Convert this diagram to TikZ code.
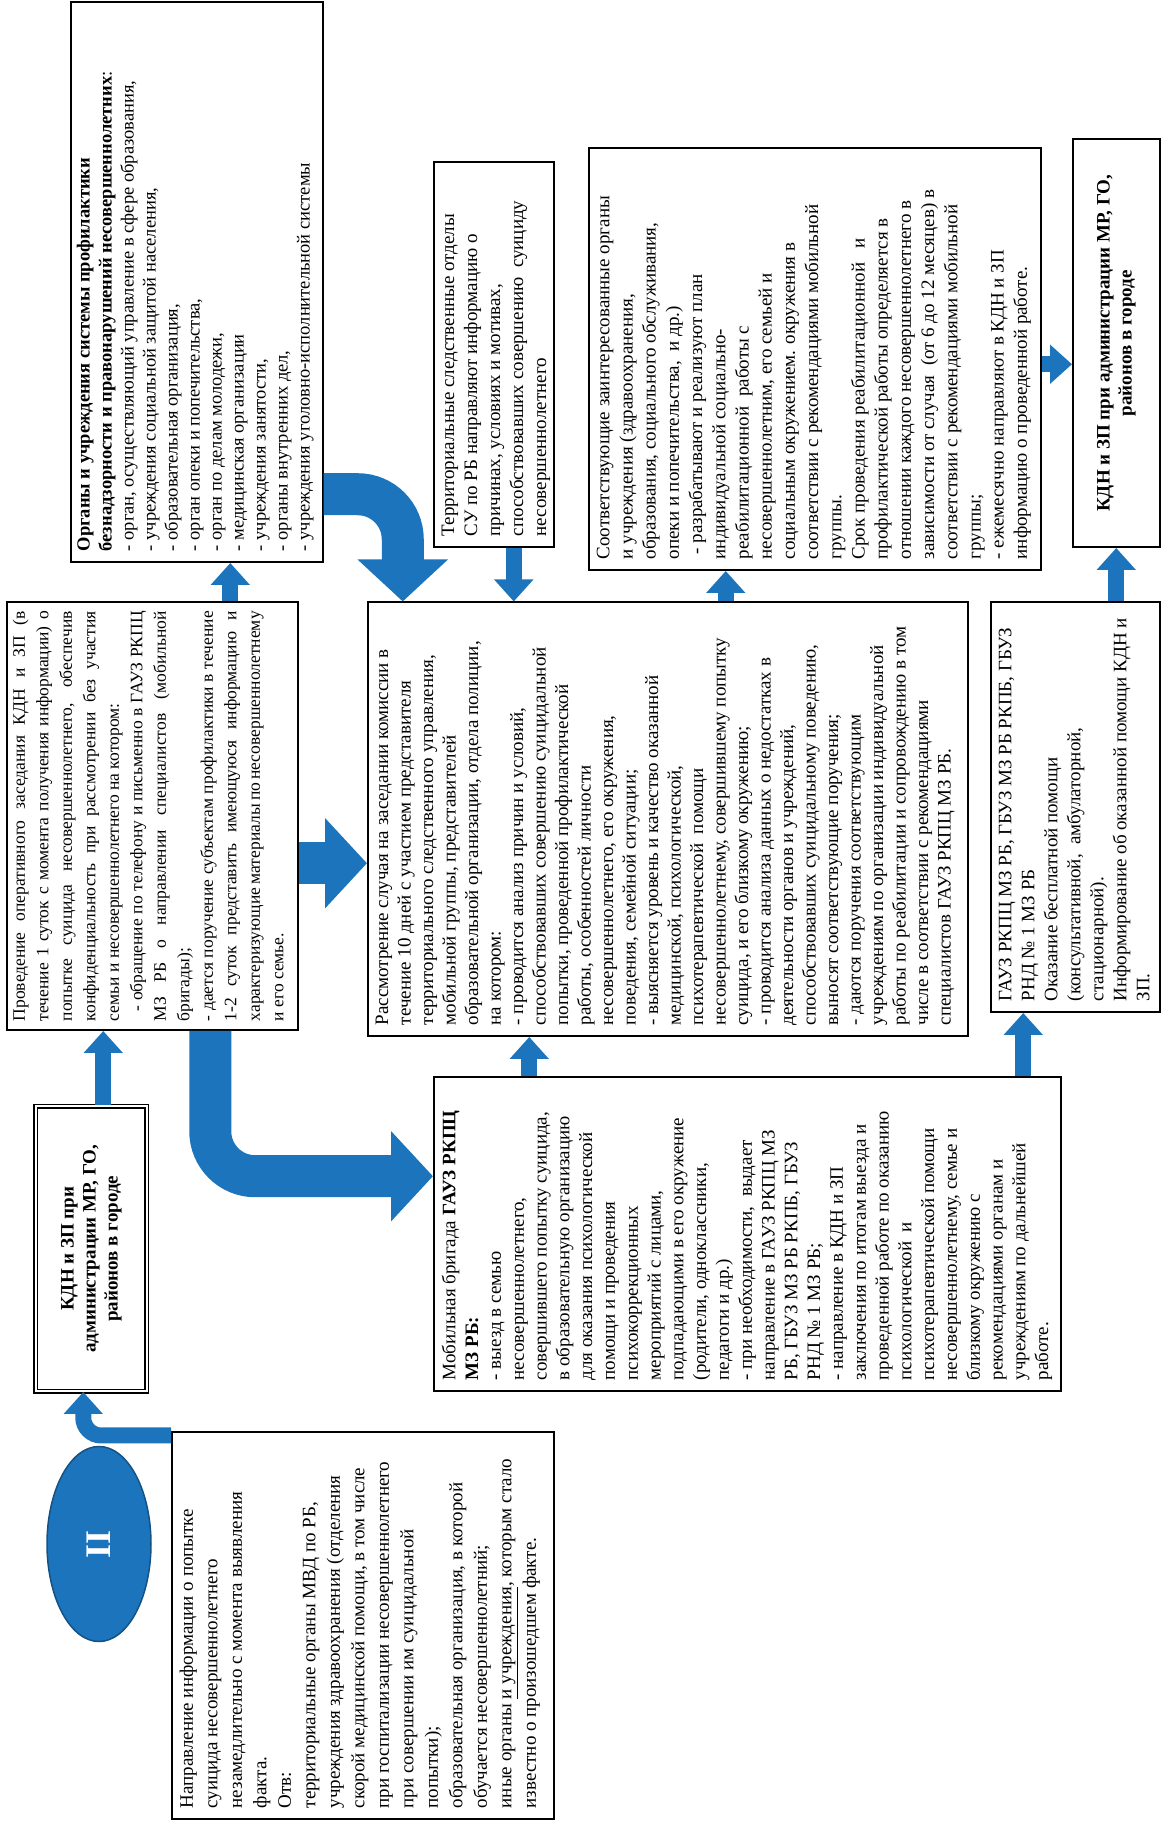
\documentclass[tikz,border=0pt]{standalone}
\usepackage{fontspec}
\setmainfont{Liberation Serif}
\usetikzlibrary{arrows.meta,shapes.geometric}
\definecolor{arrblue}{RGB}{28,117,188}
\newcommand{\pbox}[3]{\parbox[c][#2][t]{#1}{\raggedright #3}}
\newcommand{\jl}[1]{\hbox to\hsize{#1}}
\hbadness=10000
\hfuzz=50pt

\begin{document}
\begin{tikzpicture}[x=1pt, y=1pt,
  blk/.style={draw, line width=1.5pt, inner xsep=11pt, inner ysep=8pt, anchor=north west,
    font=\fontsize{19}{23}\selectfont},
  kdn/.style={draw, line width=1.5pt, anchor=north west, align=center, inner sep=0pt,
    font=\fontsize{19}{22}\selectfont\bfseries},
  arr/.style={arrblue, line width=16pt, -{Triangle[width=38pt,length=22pt]}},
  bigarr/.style={arrblue, line width=42pt, -{Triangle[width=88pt,length=42pt]}, rounded corners=45pt}]
\begin{scope}[rotate=90, transform shape]
\useasboundingbox (0,0) rectangle (1826,-1166);

\node[ellipse, fill=arrblue, draw=arrblue!70!black, line width=1.5pt, minimum width=195pt, minimum height=104pt,
  font=\fontsize{36}{36}\selectfont\bfseries, text=white] (start) at (282,-99) {II};

\node[blk, font=\fontsize{19}{24.5}\selectfont] (notice) at (6,-171) {\pbox{365pt}{366pt}{%
Направление информации о попытке\\
суицида несовершеннолетнего\\
незамедлительно с момента выявления\\
факта.\\
Отв:\\
территориальные органы МВД по РБ,\\
учреждения здравоохранения (отделения\\
скорой медицинской помощи, в том числе\\
при госпитализации несовершеннолетнего\\
при совершении им суицидальной\\
попытки);\\
образовательная организация, в которой\\
обучается несовершеннолетний;\\
иные органы \underline{и учреждения}, которым стало\\
известно о произошедшем факте.}};

\node[kdn, double, double distance=2pt, minimum width=285pt, minimum height=111pt] (kdnleft) at (434,-35)
  {КДН и ЗП при\\ администрации МР, ГО,\\ районов в городе};

\node[blk, inner xsep=9pt, inner ysep=6pt, font=\fontsize{17.5}{23.5}\selectfont] (meeting) at (795,-6) {\pbox{410pt}{279pt}{%
\jl{Проведение оперативного заседания КДН и ЗП (в}
\jl{течение 1 суток с момента получения информации) о}
\jl{попытке суицида несовершеннолетнего, обеспечив}
\jl{конфиденциальность при рассмотрении без участия}
семьи и несовершеннолетнего на котором:\par
\jl{\ \ - обращение по телефону и письменно в ГАУЗ РКПЦ}
\jl{МЗ РБ о направлении специалистов (мобильной}
бригады);\par
\jl{- дается поручение субъектам профилактики в течение}
\jl{1-2 суток представить имеющуюся информацию и}
\jl{характеризующие материалы по несовершеннолетнему}
и его семье.}};

\node[blk, font=\fontsize{19}{22.8}\selectfont] (mobile) at (434,-433) {\pbox{292pt}{611pt}{%
Мобильная бригада \textbf{ГАУЗ РКПЦ}\\
\textbf{МЗ РБ:}\\
- выезд в семью\\
несовершеннолетнего,\\
совершившего попытку суицида,\\
в образовательную организацию\\
для оказания психологической\\
помощи и проведения\\
психокоррекционных\\
мероприятий с лицами,\\
подпадающими в его окружение\\
(родители, одноклассники,\\
педагоги и др.)\\
- при необходимости,\ \ выдает\\
направление в ГАУЗ РКПЦ МЗ\\
РБ, ГБУЗ МЗ РБ РКПБ, ГБУЗ\\
РНД № 1 МЗ РБ;\\
- направление в КДН и ЗП\\
заключения по итогам выезда и\\
проведенной работе по оказанию\\
психологической\ \ и\\
психотерапевтической помощи\\
несовершеннолетнему, семье и\\
близкому окружению с\\
рекомендациями органам и\\
учреждениям по дальнейшей\\
работе.}};

\node[blk, font=\fontsize{19}{22.5}\selectfont] (review) at (789,-367) {\pbox{412pt}{584pt}{%
Рассмотрение случая на заседании комиссии в\\
течение 10 дней с участием представителя\\
территориального следственного управления,\\
мобильной группы, представителей\\
образовательной организации, отдела полиции,\\
на котором:\\
- проводится анализ причин и условий,\\
способствовавших совершению суицидальной\\
попытки, проведенной профилактической\\
работы, особенностей личности\\
несовершеннолетнего, его окружения,\\
поведения, семейной ситуации;\\
- выясняется уровень и качество оказанной\\
медицинской, психологической,\\
психотерапевтической\ \ помощи\\
несовершеннолетнему, совершившему попытку\\
суицида, и его близкому окружению;\\
- проводится анализа данных о недостатках в\\
деятельности органов и учреждений,\\
способствовавших суицидальному поведению,\\
выносят соответствующие поручения;\\
- даются поручения соответствующим\\
учреждениям по организации индивидуальной\\
работы по реабилитации и сопровождению в том\\
числе в соответствии с рекомендациями\\
специалистов ГАУЗ РКПЦ МЗ РБ.}};

\node[blk] (clinics) at (813,-990) {\pbox{388pt}{153pt}{%
ГАУЗ РКПЦ МЗ РБ, ГБУЗ МЗ РБ РКПБ, ГБУЗ\\
РНД № 1 МЗ РБ\\
Оказание бесплатной помощи\\
(консультативной,\ \ амбулаторной,\\
стационарной).\\
Информирование об оказанной помощи КДН и\\
ЗП.}};

\node[blk] (inquiry) at (1278,-433) {\pbox{363pt}{104pt}{%
Территориальные следственные отделы\\
СУ по РБ направляют информацию о\\
причинах, условиях и мотивах,\\
способствовавших совершению\ \ суициду\\
несовершеннолетнего}};

\node[blk, font=\fontsize{19}{23.2}\selectfont] (agencies) at (1255,-588) {\pbox{400pt}{436pt}{%
Соответствующие заинтересованные органы\\
и учреждения (здравоохранения,\\
образования, социального обслуживания,\\
опеки и попечительства,\ \ и др.)\\
\ - разрабатывают и реализуют план\\
индивидуальной социально-\\
реабилитационной\ \ работы с\\
несовершеннолетним, его семьей и\\
социальным окружением. окружения в\\
соответствии с рекомендациями мобильной\\
группы.\\
Срок проведения реабилитационной\ \ \ и\\
профилактической работы определяется в\\
отношении каждого несовершеннолетнего в\\
зависимости от случая\ \ (от 6 до 12 месяцев) в\\
соответствии с рекомендациями мобильной\\
группы;\\
- ежемесячно направляют в КДН и ЗП\\
информацию о проведенной работе.}};

\node[blk, inner ysep=6pt, font=\fontsize{18.5}{22}\selectfont] (organs) at (1263,-70) {\pbox{538pt}{240pt}{%
\textbf{Органы и учреждения системы профилактики}\\
\textbf{безнадзорности и правонарушений несовершеннолетних}:\\
- орган, осуществляющий управление в сфере образования,\\
- учреждения социальной защитой населения,\\
- образовательная организация,\\
- орган опеки и попечительства,\\
- орган по делам молодежи,\\
- медицинская организации\\
- учреждения занятости,\\
- органы внутренних дел,\\
- учреждения уголовно-исполнительной системы}};

\node[kdn, minimum width=408pt, minimum height=87pt] (kdnright) at (1278,-1072)
  {КДН и ЗП при администрации МР, ГО,\\ районов в городе};

\draw[arr, rounded corners=18pt] ([xshift=-4pt]notice.north east) |- ([yshift=8pt]kdnleft.west);
\draw[arr] ([yshift=-12pt]kdnleft.east) -- ([yshift=-12pt]kdnleft.east -| meeting.west);
\draw[arr] ([yshift=-78pt]meeting.east) -- ([yshift=-78pt]meeting.east -| organs.west);
\draw[bigarr] ([xshift=-47pt]meeting.south) -- ([xshift=-47pt]meeting.south |- review.north);
\draw[bigarr] ([yshift=-58pt]meeting.west) -| ([xshift=58pt]mobile.north);
\draw[bigarr] ([xshift=-212pt]organs.south) |- ([yshift=265pt]review.east);
\draw[arr] ([yshift=-20pt]inquiry.west) -- ([yshift=-20pt]inquiry.west -| review.east);
\draw[arr] ([yshift=-58pt]review.east) -- ([yshift=-58pt]review.east -| agencies.west);
\draw[arr] ([yshift=218pt]mobile.east) -- ([yshift=218pt]mobile.east -| review.west);
\draw[arr] ([yshift=-276pt]mobile.east) -- ([yshift=-276pt]mobile.east -| clinics.west);
\draw[arr] ([xshift=-5pt]agencies.south) -- ([xshift=-5pt]agencies.south |- kdnright.north);
\draw[arr] (clinics.east |- kdnright.west) -- (kdnright.west);
\end{scope}
\end{tikzpicture}
\end{document}
